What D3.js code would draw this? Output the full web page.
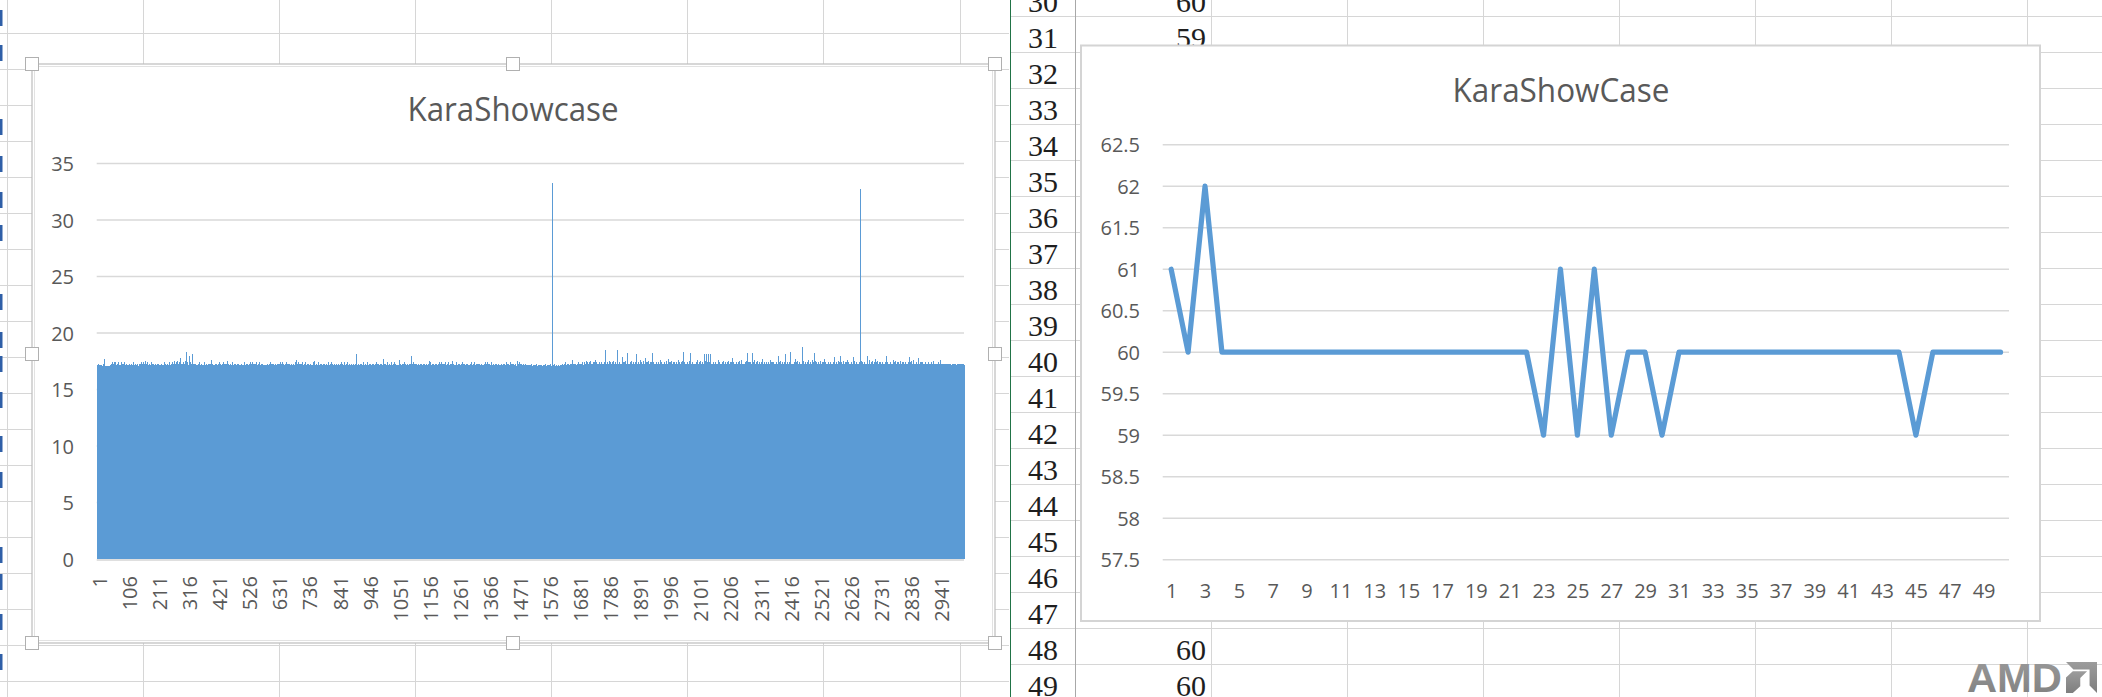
<!DOCTYPE html>
<html><head><meta charset="utf-8">
<script src="https://cdn.jsdelivr.net/npm/d3@7/dist/d3.min.js"></script>
<style>html,body{margin:0;padding:0;background:#fff;overflow:hidden}svg{display:block}</style>
</head><body>
<svg id="c" width="2102" height="697"></svg>
<script>
// ---------- DATA ----------
// Left chart: KaraShowcase, one value per frame (3028 frames)
const barValues = [
16.4,17.1,17.2,17.2,17.1,17.3,17.2,17.1,17.2,17.1,17.2,17.1,17.0,17.1,17.1,17.2,17.1,17.1,17.0,17.1,17.1,17.2,17.1,17.3,17.2,17.3,17.7,17.2,17.1,17.0,17.0,17.1,17.0,17.1,17.0,17.1,17.0,17.0,17.1,17.0,17.1,17.0,17.1,17.1,17.0,17.1,17.2,17.0,17.1,17.0,17.1,17.3,17.2,17.4,17.1,17.2,17.3,17.1,17.2,17.4,17.2,17.1,17.3,17.2,17.1,17.4,17.2,17.1,17.0,17.2,17.3,17.1,17.2,17.4,17.2,17.1,17.3,17.2,17.1,17.1,17.2,17.1,17.0,17.2,17.3,17.4,17.2,17.1,17.2,17.3,17.1,17.3,17.2,17.1,17.2,17.4,17.3,17.2,17.1,17.2,
17.2,17.1,17.1,17.2,17.3,17.1,17.0,17.2,17.1,17.2,17.1,17.2,17.3,17.1,17.1,17.2,17.0,17.1,17.2,17.3,17.2,17.0,17.1,17.2,16.0,17.4,17.2,17.1,17.1,17.2,17.1,17.1,17.2,17.3,17.2,17.1,17.2,17.0,17.2,17.1,17.3,17.1,17.2,17.1,17.0,17.1,17.3,17.2,17.1,17.2,17.2,17.3,17.1,17.2,17.4,17.1,17.2,17.1,17.3,17.2,17.1,17.2,17.4,17.2,17.1,17.3,17.2,17.1,17.2,17.5,17.2,17.1,17.3,17.2,17.1,17.2,17.4,17.2,17.1,17.2,17.1,17.2,17.1,17.3,17.2,17.1,17.2,17.1,17.4,17.2,17.2,17.1,17.2,17.3,17.1,17.2,17.1,17.3,17.2,17.1,
17.1,17.2,17.3,17.1,17.1,17.2,17.0,17.1,17.2,17.3,17.2,17.1,17.1,17.2,17.3,17.1,17.0,17.2,17.1,17.2,17.1,17.1,17.2,17.3,17.2,17.1,17.2,17.0,17.2,17.1,17.2,17.0,17.1,17.2,17.1,17.4,17.2,17.1,17.1,17.2,17.3,17.1,17.2,17.1,17.0,17.1,17.3,17.2,17.1,17.2,17.2,17.3,17.1,17.2,17.4,17.1,17.2,17.1,17.3,17.2,17.1,17.2,17.4,17.2,17.1,17.3,17.2,17.1,17.2,17.5,17.2,17.1,17.3,17.2,17.1,17.2,17.4,17.2,17.1,17.5,17.1,17.2,17.1,17.3,17.2,17.1,17.2,17.1,17.4,17.2,17.2,17.8,17.2,17.3,17.1,17.2,17.1,17.3,17.2,17.1,
17.3,17.2,17.1,17.4,17.2,17.3,17.1,17.2,17.5,17.2,17.3,17.2,18.3,17.2,17.1,17.3,17.4,17.2,17.1,16.8,17.2,17.3,18.0,17.2,17.1,17.3,17.2,17.4,17.1,17.2,17.3,17.2,18.1,17.2,17.1,17.2,17.3,17.1,17.2,17.3,17.1,17.2,17.1,17.3,17.2,17.1,17.2,17.0,17.2,17.1,17.2,17.1,17.3,17.2,17.1,17.2,17.4,17.2,17.1,17.2,17.1,17.2,17.1,17.2,17.3,17.1,17.0,17.2,17.1,17.2,17.2,17.0,17.1,17.2,17.1,17.4,17.2,17.1,17.1,17.2,17.1,17.2,17.3,17.1,17.1,17.2,17.0,17.1,17.2,17.3,17.2,17.1,17.2,17.3,17.1,17.2,17.1,17.3,17.2,17.6,
17.1,17.2,17.3,17.1,17.2,17.1,17.2,17.0,17.1,17.2,17.2,17.1,17.3,17.2,17.1,17.0,17.2,17.1,17.3,17.2,17.1,17.2,17.1,17.3,17.2,17.1,17.2,17.1,17.4,17.2,17.2,17.3,17.1,17.2,17.1,17.2,17.3,17.1,17.2,17.1,17.2,17.1,17.4,17.2,17.1,17.3,17.2,17.1,17.2,17.3,17.1,17.2,17.1,17.3,17.5,17.1,17.2,17.0,17.2,17.1,17.3,17.1,17.2,17.1,17.0,17.1,17.3,17.2,17.1,17.2,17.2,17.3,17.1,17.2,17.4,17.1,17.2,17.1,17.3,17.2,17.1,17.2,17.3,17.1,17.1,17.2,17.0,17.1,17.2,17.3,17.2,17.1,17.1,17.2,17.3,17.1,17.0,17.2,17.1,17.2,
17.1,17.1,17.2,17.3,17.2,17.1,17.2,17.0,17.2,17.1,17.2,17.0,17.1,17.2,17.1,17.4,17.2,17.1,17.1,17.2,17.3,17.1,17.2,17.1,17.0,17.1,17.3,17.2,17.1,17.2,17.2,17.3,17.1,17.2,17.4,17.1,17.2,17.1,17.3,17.2,17.1,17.2,17.4,17.2,17.1,17.3,17.2,17.1,17.2,17.3,17.2,17.1,17.3,17.2,17.1,17.2,17.4,17.2,17.1,17.2,17.1,17.2,17.1,17.3,17.2,17.1,17.2,17.1,17.4,17.2,17.2,17.1,17.2,17.3,17.1,17.2,17.1,17.3,17.2,17.1,17.1,17.2,17.0,16.6,17.1,17.2,17.1,17.0,17.2,17.1,17.2,17.1,17.1,17.2,17.3,17.1,17.0,17.2,17.1,17.2,
17.3,17.1,17.2,17.1,17.4,17.2,17.1,17.3,17.2,17.1,17.2,17.3,17.1,17.2,17.1,17.2,17.3,17.1,17.2,17.1,17.1,17.2,17.3,17.1,17.1,17.2,17.0,17.1,17.2,17.3,17.2,17.1,17.3,17.2,17.1,17.0,17.2,17.1,17.3,17.4,17.1,17.2,17.1,17.3,17.2,17.1,17.2,17.1,17.4,17.2,17.2,17.3,17.1,17.2,17.1,17.2,17.3,17.1,17.2,17.1,17.2,17.1,17.4,17.2,17.1,17.3,17.2,17.1,17.2,17.3,17.1,17.2,17.1,17.3,17.2,17.1,17.2,17.0,17.2,17.1,17.3,17.1,17.2,17.1,17.0,17.1,17.3,17.2,17.1,17.2,17.2,17.3,17.1,16.6,17.4,17.1,17.6,17.1,17.3,17.2,
17.1,17.2,17.4,17.2,17.1,17.3,17.2,17.1,17.2,17.3,17.2,17.1,17.3,17.2,17.1,17.2,17.4,17.2,17.1,17.2,17.1,17.2,17.1,17.3,17.2,17.1,17.2,17.1,17.4,17.2,17.2,17.1,17.2,17.3,17.1,17.2,17.1,17.3,17.2,17.1,17.1,17.1,17.2,17.3,17.2,17.1,17.2,17.0,17.2,17.1,17.2,17.0,17.1,17.2,17.1,17.4,17.2,17.1,17.1,17.5,17.3,17.1,17.2,17.1,17.0,17.1,17.3,17.2,17.1,17.2,17.2,17.3,17.1,17.2,17.4,17.1,17.2,17.1,17.3,17.2,17.1,17.2,17.3,17.1,17.1,17.2,17.0,17.1,17.2,17.3,17.2,17.1,17.1,17.2,17.3,17.1,17.0,17.2,17.1,17.2,
17.2,17.1,17.3,17.2,17.1,17.2,17.4,17.2,17.1,17.2,17.1,17.2,17.1,17.3,17.2,17.1,17.2,17.1,17.4,17.2,17.2,17.1,16.5,17.3,17.1,17.2,17.1,17.3,17.2,17.1,17.3,17.1,17.2,17.1,17.0,17.1,17.3,17.2,17.1,17.2,17.1,17.1,17.2,17.3,17.2,17.1,17.2,17.0,17.2,17.1,17.2,17.3,17.1,17.2,17.4,17.1,17.2,17.1,17.3,17.2,17.1,17.2,17.4,17.2,17.1,17.3,17.2,17.1,17.2,17.3,17.2,17.0,17.1,17.2,17.1,17.4,17.2,17.1,17.1,17.2,17.1,17.2,17.3,17.1,17.1,17.2,17.0,17.1,16.5,17.3,17.2,17.1,17.1,17.2,17.3,17.1,17.0,17.2,17.1,17.2,
17.1,17.2,17.3,17.1,17.2,17.1,18.1,17.0,17.1,17.2,17.2,17.1,17.3,17.2,17.1,17.0,17.2,17.1,17.3,17.2,17.1,17.2,17.1,17.3,17.2,17.1,17.2,17.1,17.4,17.2,17.2,17.3,17.1,17.2,17.1,17.2,17.3,17.1,17.2,17.1,17.2,17.1,17.4,17.2,17.1,17.3,17.2,17.1,17.2,17.3,17.1,17.2,17.1,17.3,17.2,17.1,17.2,17.0,17.2,17.1,17.3,17.1,17.2,17.1,17.0,17.1,17.3,17.2,17.1,17.2,17.2,17.3,17.1,17.2,17.4,17.1,17.2,17.1,17.3,17.2,17.1,17.2,17.3,17.1,17.1,17.2,17.0,17.1,17.2,17.3,17.2,17.1,17.1,17.2,17.3,17.1,17.0,17.2,17.7,16.3,
17.2,17.1,17.2,17.3,17.1,17.2,17.1,17.3,17.2,17.1,17.1,17.2,17.4,17.2,17.1,17.3,17.2,17.1,17.2,17.3,17.2,17.1,17.3,17.2,17.1,17.2,17.4,17.2,17.1,17.2,17.1,17.2,17.1,17.3,17.2,17.1,17.2,17.1,17.4,17.2,17.1,17.1,17.2,17.3,17.2,17.1,17.2,17.0,17.2,17.1,17.2,17.0,17.1,17.2,17.1,17.4,17.6,17.1,17.1,17.2,17.3,17.1,17.2,17.1,17.0,17.1,17.3,17.2,17.1,17.2,17.2,17.3,17.1,17.2,17.4,17.1,17.2,17.1,17.3,17.2,17.1,17.2,17.3,17.1,17.1,17.2,17.0,17.1,17.2,17.3,17.2,17.1,17.1,17.2,17.3,17.1,17.0,17.2,18.0,17.2,
17.3,17.1,17.2,17.1,17.4,17.2,17.1,17.3,17.2,17.1,17.2,17.3,17.1,17.2,17.1,17.2,17.3,17.1,17.2,17.1,17.1,17.2,17.3,17.1,17.1,17.2,17.0,17.1,17.2,17.3,17.2,17.1,17.3,17.2,17.1,17.0,17.2,17.1,17.3,17.2,17.1,17.2,17.1,17.3,17.2,17.1,17.2,17.1,16.6,17.2,17.2,17.3,17.1,17.2,17.1,17.2,17.3,17.1,17.2,17.1,17.5,17.1,17.4,17.2,17.1,17.3,17.2,17.1,17.2,17.3,17.1,17.2,17.1,17.3,17.2,17.1,17.2,17.0,17.2,17.1,17.3,17.1,17.2,17.1,17.0,17.1,17.3,17.2,17.1,17.2,17.2,17.3,17.1,17.2,17.4,17.1,17.2,17.1,17.3,17.2,
17.1,17.2,17.4,17.2,17.1,17.3,17.2,17.1,17.2,17.3,17.2,17.1,17.3,17.2,17.1,17.2,17.4,17.2,17.1,17.2,17.1,17.2,17.1,17.3,17.2,17.1,17.2,17.1,17.4,17.2,17.2,17.1,17.2,17.3,17.1,17.2,17.1,17.3,17.2,17.5,17.1,17.1,17.2,17.3,17.2,17.1,17.2,17.0,17.2,17.1,17.2,17.0,17.1,17.2,17.1,17.4,17.2,17.1,17.1,17.2,17.3,17.1,17.2,17.1,17.0,17.1,17.3,17.2,17.1,17.2,17.2,17.3,17.1,17.2,17.4,17.1,17.2,17.1,17.3,17.2,17.1,17.2,17.3,17.1,17.1,17.2,17.0,17.1,17.2,17.3,17.2,17.1,17.1,17.2,17.3,17.1,17.0,17.2,17.1,17.2,
17.2,17.1,17.3,17.2,17.1,17.2,17.4,17.2,17.1,17.2,17.1,17.2,17.1,17.3,17.2,17.1,17.2,17.1,17.4,17.2,17.2,17.1,17.2,17.3,17.1,17.2,17.1,17.3,17.2,17.1,17.3,17.1,17.2,17.1,17.0,17.1,17.3,17.2,17.1,17.2,17.1,17.1,17.2,17.3,17.2,17.1,17.2,17.0,17.2,16.7,17.2,17.3,17.1,17.2,17.4,17.1,17.2,17.1,17.3,17.2,17.1,17.2,17.4,17.2,17.1,17.3,17.2,17.1,17.2,17.3,17.2,17.0,17.1,17.2,17.1,17.4,17.2,17.1,17.1,17.2,17.1,17.2,17.3,17.1,17.1,17.2,17.0,17.1,17.2,17.3,17.2,17.1,17.1,17.2,17.3,17.1,17.0,17.2,17.1,17.2,
17.1,17.2,17.3,17.1,17.2,16.6,17.2,17.0,17.1,17.2,17.2,17.1,17.3,17.2,17.1,17.0,17.2,17.1,17.3,17.2,17.1,17.2,17.1,17.3,17.2,17.1,16.6,17.1,17.4,17.2,17.2,17.3,17.1,17.2,17.1,17.2,17.3,17.1,17.2,17.1,17.2,17.1,17.4,17.2,17.1,17.3,17.2,17.1,17.2,17.3,17.1,17.2,17.1,17.3,17.2,17.1,17.2,17.0,17.2,17.1,17.3,17.1,17.2,17.1,17.0,17.1,17.3,17.2,17.1,17.5,17.2,17.3,17.1,17.2,17.4,17.1,17.2,17.1,17.3,17.2,17.1,17.2,17.3,17.1,17.1,17.2,17.0,17.1,17.2,17.3,17.2,17.1,17.1,17.2,17.3,17.1,17.0,17.2,17.1,17.2,
17.1,17.0,17.1,17.2,17.1,17.0,17.1,17.2,17.0,17.1,17.2,17.1,17.0,17.1,17.2,17.1,17.0,17.1,17.3,17.1,17.0,17.1,17.2,17.1,17.0,17.1,17.1,17.2,17.0,17.1,17.1,17.2,17.1,17.0,17.1,17.3,17.1,17.0,17.1,17.2,17.0,17.1,17.1,17.2,17.0,17.1,17.2,17.1,17.0,17.1,17.1,17.0,17.2,17.1,17.1,17.0,17.1,17.2,17.1,17.0,17.2,17.1,17.0,17.1,17.2,17.1,17.3,17.1,17.0,17.1,17.1,17.2,17.1,17.0,17.1,17.1,17.2,17.0,17.1,17.2,17.0,17.1,17.2,17.1,17.3,17.1,17.0,17.1,17.2,17.1,33.3,17.1,17.2,17.0,17.1,17.2,17.1,17.3,17.1,17.0,
17.1,17.0,17.1,17.2,17.1,17.0,17.1,17.0,17.1,17.2,17.0,17.1,17.2,17.1,17.0,17.1,17.2,17.1,17.1,17.0,17.1,17.2,17.1,17.3,17.1,17.2,17.1,17.0,17.1,17.2,17.2,17.1,17.2,17.3,17.1,17.2,17.4,17.1,17.2,17.1,17.1,17.2,17.3,17.1,17.2,17.1,17.2,17.3,17.1,17.2,17.2,17.1,17.3,17.2,17.1,17.2,17.1,17.3,17.2,17.6,17.1,17.2,17.1,17.3,17.2,17.1,17.2,17.1,17.3,17.2,17.2,17.3,17.1,17.2,17.1,17.2,17.3,17.1,17.2,17.1,17.1,17.2,17.4,17.2,17.1,17.3,17.2,17.1,17.2,17.3,17.2,17.1,17.3,17.2,17.1,17.2,17.4,17.2,17.1,17.2,
17.3,17.2,17.4,17.2,17.1,17.3,17.2,17.5,17.2,17.3,17.2,17.3,17.2,17.4,17.3,17.1,17.2,17.3,17.2,17.4,17.4,17.2,17.3,17.2,17.5,17.2,17.1,17.3,17.3,17.2,17.2,17.4,17.3,17.2,17.2,17.3,17.4,17.2,17.3,17.6,17.3,17.2,17.4,17.2,17.1,17.3,17.2,17.3,17.2,17.3,17.2,17.3,17.2,17.4,17.3,17.1,17.2,17.3,17.2,17.4,17.4,17.2,17.3,17.2,17.3,17.2,17.1,17.3,17.3,17.2,17.2,17.4,17.3,17.2,17.2,18.5,17.3,17.2,17.3,17.1,17.3,17.2,17.4,17.2,17.1,17.3,17.2,17.5,17.2,17.3,17.2,17.3,17.2,17.4,17.3,17.1,17.2,17.3,17.2,17.4,
17.4,17.2,17.3,17.2,17.5,17.2,17.1,17.3,17.3,17.2,17.2,17.4,17.3,17.2,17.2,17.3,17.2,18.5,17.3,17.1,17.3,17.2,17.4,17.2,17.1,17.3,17.2,17.3,17.2,17.3,17.2,17.3,17.2,17.4,17.9,17.1,17.2,17.3,17.2,17.4,17.4,17.2,17.3,17.2,17.5,17.2,17.1,17.3,17.3,17.2,18.2,17.4,17.3,17.2,17.2,17.3,17.2,17.2,17.3,17.1,17.3,17.2,17.4,17.2,17.1,17.3,17.2,17.5,17.2,17.3,17.2,17.3,17.2,17.4,17.3,17.1,17.2,17.3,17.2,17.4,17.4,17.2,17.3,17.2,18.1,17.2,17.1,17.3,17.3,17.2,17.2,17.4,17.3,17.2,17.2,17.3,17.6,17.2,17.3,17.1,
17.3,17.2,17.4,17.2,17.1,17.3,17.2,17.5,17.2,17.3,17.2,17.3,17.2,17.4,17.3,17.1,17.8,17.3,17.2,17.4,17.4,17.2,17.3,17.2,17.5,17.2,17.1,17.3,17.3,17.2,17.2,17.4,17.3,17.2,17.2,17.3,17.4,17.2,17.3,18.2,17.3,17.2,17.4,17.2,17.1,17.3,17.2,17.3,17.2,17.3,17.2,17.3,17.2,17.4,17.3,17.1,17.2,17.3,17.2,17.4,17.4,17.2,17.3,17.2,17.3,17.2,17.1,17.6,17.3,17.2,17.2,17.4,17.3,17.2,17.2,17.3,17.2,17.2,17.3,17.1,17.3,17.2,17.4,17.2,17.1,17.3,17.2,17.5,17.2,17.3,17.2,17.3,17.2,17.4,17.3,17.1,17.7,17.3,17.2,17.4,
17.4,17.2,17.3,17.2,17.5,17.2,17.1,17.3,17.3,17.2,17.2,17.4,17.3,17.2,17.2,17.3,17.4,17.2,17.3,17.1,17.3,17.2,17.4,17.2,17.1,17.3,17.2,17.3,17.2,17.6,17.2,17.3,17.2,17.4,17.3,17.1,17.2,17.3,17.2,17.4,17.4,17.2,17.3,17.2,17.5,17.2,17.1,17.3,18.3,17.2,17.2,17.4,17.3,17.2,17.2,17.3,17.2,17.2,17.3,17.1,17.3,17.2,17.4,17.2,17.1,17.3,17.2,17.5,17.2,17.3,17.2,17.3,18.2,17.4,17.3,17.1,17.2,17.3,17.2,17.4,17.4,17.2,17.3,17.2,17.3,17.2,17.1,17.3,17.3,17.2,17.2,17.4,17.3,17.2,17.2,17.3,17.6,17.2,17.3,17.1,
17.3,17.2,17.4,17.2,17.1,17.3,17.2,17.5,17.2,17.3,17.2,17.3,17.2,17.4,17.3,17.1,17.2,17.3,17.2,17.4,18.1,17.2,17.3,17.2,17.5,17.2,17.1,18.1,17.3,17.2,17.2,17.4,17.3,17.2,18.1,17.3,17.4,17.2,17.3,17.1,17.3,18.1,17.4,17.2,17.1,17.3,17.2,17.3,17.2,17.3,17.2,17.3,17.2,17.4,17.3,17.1,17.2,17.3,17.2,17.4,17.4,17.2,17.3,17.2,17.3,17.2,17.1,17.3,17.3,17.6,17.2,17.4,17.3,17.2,17.2,17.3,17.2,17.2,17.3,17.1,17.3,17.2,17.4,17.2,17.1,17.3,17.2,17.5,17.2,17.3,17.2,17.3,17.2,17.4,17.3,17.1,17.2,17.3,17.2,17.4,
17.4,17.2,17.3,17.2,17.5,17.2,17.1,17.3,17.3,17.2,17.2,17.4,17.3,17.2,17.2,17.3,17.4,17.2,17.3,17.8,17.3,17.2,17.4,17.2,17.1,17.3,17.2,17.3,17.2,17.3,17.2,17.3,17.2,17.4,17.3,17.1,17.2,17.3,17.2,17.4,17.4,17.2,17.3,17.2,17.5,17.2,17.1,17.3,17.3,17.6,17.2,17.4,17.3,17.2,17.2,17.3,17.2,17.2,17.3,17.1,17.3,17.2,17.4,17.2,17.1,17.3,17.2,17.5,17.2,17.3,17.2,18.2,17.2,17.4,17.3,17.1,17.2,17.3,17.2,17.4,17.4,17.2,17.3,17.2,17.3,17.2,17.1,17.3,17.3,18.2,17.2,17.4,17.3,17.2,17.2,17.3,17.6,17.2,17.3,17.1,
17.3,17.2,17.4,17.2,17.1,17.3,17.2,17.5,17.2,17.3,17.2,17.3,17.2,17.4,17.3,17.1,17.2,17.3,17.2,17.4,17.4,17.2,17.3,17.2,17.7,17.2,17.1,17.3,17.3,17.2,17.2,17.4,17.3,17.2,17.2,17.3,17.4,17.2,17.3,17.1,17.3,17.2,17.4,17.2,17.1,17.3,17.2,17.3,17.2,17.6,17.2,17.3,17.2,17.4,17.3,17.1,17.2,17.3,17.2,17.4,17.4,17.2,17.3,17.2,17.3,17.2,17.1,17.3,17.3,17.2,17.2,17.4,17.3,17.2,17.2,17.3,17.2,17.2,17.3,18.0,17.3,17.2,17.4,17.2,17.1,17.3,17.2,17.5,17.2,17.3,17.2,17.3,17.2,17.4,17.3,17.1,17.2,17.3,17.2,17.4,
17.4,17.2,17.3,17.2,18.1,17.2,17.1,17.3,17.3,17.2,17.2,17.4,17.3,17.2,17.2,17.3,17.4,17.2,17.3,17.1,17.3,18.3,17.4,17.2,17.1,17.3,17.2,17.3,17.2,17.3,17.2,17.3,17.2,17.4,17.3,17.1,17.2,17.3,17.2,17.7,17.4,17.2,17.3,17.2,17.5,17.2,17.1,17.3,17.3,17.2,17.2,17.4,17.3,17.2,17.2,17.3,17.2,17.2,17.3,17.1,17.3,17.2,17.4,18.8,17.1,17.3,17.2,17.5,17.2,17.3,17.2,17.3,17.2,17.4,17.3,17.1,17.2,17.3,17.2,17.4,17.4,17.2,17.3,17.2,17.6,17.2,17.1,17.3,17.3,17.2,17.2,17.4,17.3,17.2,17.2,17.3,17.6,17.2,17.3,17.1,
17.3,17.2,17.4,17.2,17.1,18.2,17.2,17.5,17.2,17.3,17.2,17.3,17.2,17.4,17.3,17.1,17.2,17.3,17.2,17.4,17.4,17.2,17.3,17.2,17.5,17.2,17.1,17.3,17.3,17.2,17.2,17.4,17.3,17.2,17.2,17.3,17.4,17.2,17.3,17.7,17.3,17.2,17.4,17.2,17.1,17.3,17.2,17.3,17.2,17.3,17.2,17.3,17.2,17.4,17.3,17.1,17.2,17.3,17.2,17.4,17.4,17.2,17.3,17.2,17.3,17.2,17.1,17.3,17.3,17.2,17.2,17.4,17.3,17.9,17.2,17.3,17.2,17.2,17.3,17.1,17.3,17.2,17.4,17.2,17.1,17.3,17.2,17.5,17.2,17.3,17.2,17.3,17.2,17.4,17.3,17.1,18.0,17.3,17.2,17.4,
17.4,17.2,17.3,17.2,17.5,17.2,17.1,17.3,17.3,17.2,17.2,17.4,17.3,17.2,17.2,17.3,17.4,17.2,17.3,17.6,17.3,17.2,17.4,17.2,17.1,17.3,17.2,17.3,17.2,17.3,17.2,17.3,17.2,17.4,17.3,17.1,17.2,17.3,17.2,17.9,17.4,17.2,17.3,17.2,17.5,17.2,17.1,17.3,17.3,17.2,16.8,17.4,17.3,17.2,17.2,17.3,17.2,17.2,17.3,17.1,17.3,17.2,17.4,17.2,17.1,17.3,32.7,17.5,17.2,17.3,17.2,17.3,17.2,17.4,17.3,17.1,17.2,17.3,17.2,17.4,17.4,17.2,17.3,17.2,17.3,17.2,17.1,17.3,18.0,17.2,17.2,17.4,17.3,17.2,17.2,17.3,17.6,17.2,17.3,17.1,
17.3,17.2,17.4,17.2,17.1,17.3,17.2,17.5,17.2,17.3,17.2,17.3,17.2,17.4,17.3,17.1,17.2,17.3,17.2,17.7,17.4,17.2,17.3,17.2,17.5,17.2,17.1,17.3,17.3,17.2,17.2,17.4,17.3,17.2,17.2,17.3,17.4,17.2,17.3,17.1,17.3,17.2,17.4,17.2,17.1,17.3,17.2,17.3,17.2,17.3,17.2,17.3,17.2,17.4,17.3,17.1,17.2,18.0,17.2,17.4,17.4,17.2,17.3,17.2,17.3,17.2,17.1,17.3,17.3,17.2,17.2,17.4,17.3,17.2,17.2,17.3,17.2,17.2,17.3,17.6,17.3,17.2,17.4,17.2,17.1,17.3,17.2,17.5,17.2,17.3,17.2,17.3,17.2,17.4,17.3,17.1,17.2,17.3,17.2,17.4,
16.3,17.2,17.3,17.2,17.5,17.2,17.1,17.3,17.3,17.2,17.2,17.4,17.3,17.2,17.2,17.3,17.4,17.2,17.3,17.1,17.3,17.2,17.4,17.2,17.1,17.3,17.2,17.3,17.2,17.3,17.2,17.3,17.2,17.4,17.3,17.9,17.2,17.3,17.2,17.4,17.4,17.2,17.3,17.2,17.5,17.2,17.1,17.3,17.3,17.6,17.2,17.4,17.3,17.2,17.2,17.3,17.2,17.2,17.3,17.1,17.3,17.2,17.4,17.2,17.1,17.3,17.2,17.8,17.2,17.3,17.2,17.3,17.2,17.4,17.3,17.1,17.2,17.3,17.2,17.4,17.4,17.2,17.3,17.2,17.3,17.2,17.1,17.3,17.3,17.2,17.2,17.4,17.3,17.2,17.2,17.3,17.2,17.2,17.3,17.1,
17.3,17.2,17.4,17.2,17.1,17.3,17.2,17.3,17.2,17.3,17.2,17.3,17.2,17.4,17.3,17.1,17.2,17.3,17.2,17.5,17.2,17.1,17.3,17.2,17.1,17.2,17.1,17.3,17.2,17.2,17.2,17.3,17.2,17.1,17.2,17.3,17.4,17.2,17.1,17.1,17.3,17.2,17.3,17.2,17.1,17.6,17.2,17.3,17.2,17.3,17.2,17.3,17.2,17.1,17.3,17.1,17.2,17.3,17.2,17.1,17.1,17.2,17.3,17.2,17.3,17.2,17.1,17.3,17.2,17.2,17.2,17.1,17.3,17.2,17.2,17.3,17.2,17.2,17.1,17.1,17.3,17.2,17.1,17.2,17.1,17.3,17.2,17.3,17.2,17.3,17.2,17.3,17.2,17.1,17.3,17.1,17.2,17.3,17.2,17.2,
17.2,17.1,17.3,17.2,17.1,17.2,17.3,17.2,17.1,17.2,17.3,17.2,17.1,17.2,17.3,17.1,17.2,17.2,17.3,17.1,17.2,17.3,17.2,17.1,17.2,17.2,17.3,17.2
];
const barXTickLabels = [1,106,211,316,421,526,631,736,841,946,1051,1156,1261,1366,1471,1576,1681,1786,1891,1996,2101,2206,2311,2416,2521,2626,2731,2836,2941];
const barYTicks = [0,5,10,15,20,25,30,35];

// Right chart: KaraShowCase, 50 samples
const lineCategories = [1,2,3,4,5,6,7,8,9,10,11,12,13,14,15,16,17,18,19,20,21,22,23,24,25,26,27,28,29,30,31,32,33,34,35,36,37,38,39,40,41,42,43,44,45,46,47,48,49,50];
const lineValues = [61,60,62,60,60,60,60,60,60,60,60,60,60,60,60,60,60,60,60,60,60,60,59,61,59,61,59,60,60,59,60,60,60,60,60,60,60,60,60,60,60,60,60,60,59,60,60,60,60,60];
const lineXTickLabels = [1,3,5,7,9,11,13,15,17,19,21,23,25,27,29,31,33,35,37,39,41,43,45,47,49];
const lineYTicks = [57.5,58,58.5,59,59.5,60,60.5,61,61.5,62,62.5];

// Spreadsheet cells visible around the charts
const sheetRows = [30,31,32,33,34,35,36,37,38,39,40,41,42,43,44,45,46,47,48,49];
const sheetCellRows = [30,31,48,49];
const sheetCellValues = ["60","59","60","60"];

// ---------- DRAWING ----------
const svg = d3.select("#c");
const FONT = "'Open Sans', 'Noto Sans', sans-serif";
const LABEL = "#595959";
const BLUE = "#5b9bd5";
const GRID = "#d9d9d9";

svg.append("rect").attr("width", 2102).attr("height", 697).attr("fill", "#fff");

// --- sheet grid, left pane ---
const sheet = svg.append("g").attr("shape-rendering", "crispEdges");
const leftRowLines = d3.range(19).map(k => 33 + 36 * k);
const leftColLines = d3.range(8).map(k => 7.3 + 136.1 * k);
sheet.selectAll(".lh").data(leftRowLines).join("line")
  .attr("x1", 0).attr("x2", 1009).attr("y1", d => d).attr("y2", d => d)
  .attr("stroke", "#d6d6d6");
sheet.selectAll(".lv").data(leftColLines).join("line")
  .attr("x1", d => d).attr("x2", d => d).attr("y1", 0).attr("y2", 697)
  .attr("stroke", "#d6d6d6");

// blue text slivers of a cut-off column at the far left edge
const sliverY = [18, 53, 127, 164, 200, 233, 302, 340, 364, 400, 444, 480, 555, 582, 622, 662];
svg.append("g").selectAll("rect").data(sliverY).join("rect")
  .attr("x", 0).attr("y", d => d - 8).attr("width", 2.5).attr("height", 16)
  .attr("fill", "#2f5fa7");

// --- sheet grid, right pane ---
const rightRowLines = d3.range(20).map(k => 16.4 + 36 * k);
const rightColLines = [1211, 1347, 1483, 1619, 1755, 1891, 2027];
sheet.selectAll(".rh").data(rightRowLines).join("line")
  .attr("x1", 1011).attr("x2", 2102).attr("y1", d => d).attr("y2", d => d)
  .attr("stroke", "#d6d6d6");
sheet.selectAll(".rv").data(rightColLines).join("line")
  .attr("x1", d => d).attr("x2", d => d).attr("y1", 0).attr("y2", 697)
  .attr("stroke", "#d6d6d6");
sheet.append("line").attr("x1", 1075).attr("x2", 1075).attr("y1", 0).attr("y2", 697).attr("stroke", "#a8a8a8");
sheet.append("line").attr("x1", 1010.5).attr("x2", 1010.5).attr("y1", 0).attr("y2", 697).attr("stroke", "#217346").attr("stroke-width", 1.5);

// row headers
const rowBase = r => 48 + 36 * (r - 31);
svg.append("g").selectAll("text").data(sheetRows).join("text")
  .attr("x", 1043).attr("y", d => rowBase(d)).attr("text-anchor", "middle")
  .attr("font-family", "'Liberation Serif', serif").attr("font-size", 30).attr("fill", "#1e1e1e")
  .text(d => d);
svg.append("g").selectAll("text").data(sheetCellRows).join("text")
  .attr("x", 1206).attr("y", d => rowBase(d)).attr("text-anchor", "end")
  .attr("font-family", "'Liberation Serif', serif").attr("font-size", 30).attr("fill", "#1e1e1e")
  .text((d, i) => sheetCellValues[i]);

// ================= LEFT CHART (column) =================
const L = svg.append("g");
L.append("rect").attr("x", 32).attr("y", 64).attr("width", 963).attr("height", 579)
  .attr("fill", "#fff").attr("stroke", "#bdbdbd").attr("stroke-width", 1.2);
L.append("rect").attr("x", 34.5).attr("y", 66.5).attr("width", 958).attr("height", 574)
  .attr("fill", "none").attr("stroke", "#e2e2e2").attr("stroke-width", 1);

L.append("text").attr("x", 513).attr("y", 121).attr("text-anchor", "middle")
  .attr("font-family", FONT).attr("font-size", 33).attr("fill", LABEL)
  .attr("textLength", 211).attr("lengthAdjust", "spacingAndGlyphs")
  .text("KaraShowcase");

const xBar = d3.scaleBand().domain(barValues.map((d, i) => i + 1)).range([96.7, 964]).padding(0);
const yBar = d3.scaleLinear().domain([0, 35]).range([559, 163.5]);

L.append("g").selectAll("line").data(barYTicks.filter(t => t > 0)).join("line")
  .attr("x1", 96.7).attr("x2", 964).attr("y1", d => yBar(d)).attr("y2", d => yBar(d))
  .attr("stroke", GRID).attr("stroke-width", 1.7);

L.append("g").attr("shape-rendering", "crispEdges")
  .selectAll("rect").data(barValues).join("rect")
  .attr("x", (d, i) => xBar(i + 1))
  .attr("y", d => yBar(d))
  .attr("width", Math.max(1, xBar.bandwidth()))
  .attr("height", d => yBar(0) - yBar(d))
  .attr("fill", BLUE);

L.append("line").attr("x1", 96.7).attr("x2", 964).attr("y1", 560).attr("y2", 560)
  .attr("stroke", "#d4d4d4").attr("stroke-width", 1.6);

const gxL = L.append("g").attr("transform", "translate(0,559)")
  .call(d3.axisBottom(xBar).tickValues(barXTickLabels).tickSize(0));
gxL.select(".domain").remove();
gxL.selectAll("text")
  .attr("x", -17).attr("y", 2.5).attr("dy", "0.36em")
  .attr("transform", "rotate(-90)").attr("text-anchor", "end")
  .attr("font-family", FONT).attr("font-size", 20).attr("fill", LABEL);

const gyL = L.append("g").attr("transform", "translate(96.7,0)")
  .call(d3.axisLeft(yBar).tickValues(barYTicks).tickSize(0).tickPadding(22.7));
gyL.select(".domain").remove();
gyL.selectAll("text").attr("dy", "0.36em")
  .attr("font-family", FONT).attr("font-size", 20).attr("fill", LABEL);

// selection handles
const handles = [[32,64],[513,64],[995,64],[32,354],[995,354],[32,643],[513,643],[995,643]];
L.append("g").selectAll("rect").data(handles).join("rect")
  .attr("x", d => d[0] - 6.5).attr("y", d => d[1] - 6.5).attr("width", 13).attr("height", 13)
  .attr("fill", "#fff").attr("stroke", "#b0b0b0").attr("stroke-width", 1);

// ================= RIGHT CHART (line) =================
const R = svg.append("g");
R.append("rect").attr("x", 1081).attr("y", 45.5).attr("width", 959).attr("height", 575.5)
  .attr("fill", "#fff").attr("stroke", "#d4d4d4").attr("stroke-width", 2);

R.append("text").attr("x", 1561).attr("y", 102).attr("text-anchor", "middle")
  .attr("font-family", FONT).attr("font-size", 33).attr("fill", LABEL)
  .attr("textLength", 217).attr("lengthAdjust", "spacingAndGlyphs")
  .text("KaraShowCase");

const xLine = d3.scalePoint().domain(lineCategories).range([1162.7, 2009]).padding(0.5);
const yLine = d3.scaleLinear().domain([57.5, 62.5]).range([559.7, 144.7]);

R.append("g").selectAll("line").data(lineYTicks).join("line")
  .attr("x1", 1162.7).attr("x2", 2009).attr("y1", d => yLine(d)).attr("y2", d => yLine(d))
  .attr("stroke", GRID).attr("stroke-width", 1.5);

const gxR = R.append("g").attr("transform", "translate(0,559.7)")
  .call(d3.axisBottom(xLine).tickValues(lineXTickLabels).tickSize(0));
gxR.select(".domain").remove();
gxR.selectAll("text").attr("y", 38).attr("dy", null)
  .attr("font-family", FONT).attr("font-size", 20).attr("fill", LABEL);

const gyR = R.append("g").attr("transform", "translate(1162.7,0)")
  .call(d3.axisLeft(yLine).tickValues(lineYTicks).tickSize(0).tickPadding(22.7).tickFormat(d => String(d)));
gyR.select(".domain").remove();
gyR.selectAll("text").attr("dy", "0.36em")
  .attr("font-family", FONT).attr("font-size", 20).attr("fill", LABEL);

const lineGen = d3.line().x((d, i) => xLine(lineCategories[i])).y(d => yLine(d));
R.append("path").datum(lineValues).attr("d", lineGen)
  .attr("fill", "none").attr("stroke", BLUE).attr("stroke-width", 5.2)
  .attr("stroke-linejoin", "round").attr("stroke-linecap", "round");

// ================= AMD watermark =================
const amd = svg.append("g");
const grad = svg.append("defs").append("linearGradient").attr("id", "amdg")
  .attr("x1", 0).attr("y1", 0).attr("x2", 0).attr("y2", 1);
grad.append("stop").attr("offset", 0).attr("stop-color", "#9c9c9c");
grad.append("stop").attr("offset", 1).attr("stop-color", "#7e7e7e");
amd.append("text").attr("x", 1967).attr("y", 692)
  .attr("font-family", "'Liberation Sans', Arial, sans-serif").attr("font-weight", "bold")
  .attr("font-size", 41).attr("fill", "url(#amdg)")
  .attr("textLength", 95).attr("lengthAdjust", "spacingAndGlyphs").text("AMD");
const logo = amd.append("g").attr("transform", "translate(2066,662) scale(31)").attr("fill", "url(#amdg)");
logo.append("path").attr("d", "M0,0 L1,0 L1,1 L0.76,0.76 L0.76,0.24 L0.24,0.24 Z");
logo.append("path").attr("d", "M0,1 L0,0.5 L0.22,0.3 L0.68,0.3 L0.46,0.52 L0.46,0.78 L0.22,1 Z");
</script>
</body></html>
